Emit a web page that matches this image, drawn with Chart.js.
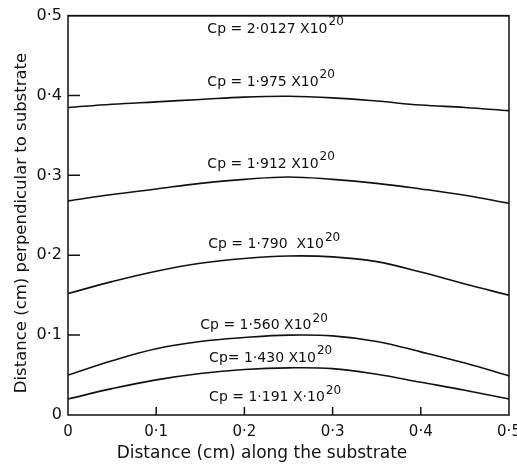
<!DOCTYPE html>
<html>
<head>
<meta charset="utf-8">
<script src="https://cdn.jsdelivr.net/npm/chart.js@4"></script>
<style>
  html, body { margin: 0; padding: 0; background: #fff; }
  #wrap { width: 517px; height: 470px; }
</style>
</head>
<body>
<div id="wrap"><canvas id="c" width="517" height="470"></canvas></div>
<script>
// --- DATA ---
const xVals = [0, 0.05, 0.1, 0.15, 0.2, 0.25, 0.3, 0.35, 0.4, 0.45, 0.5];
const xTicks = [0, 0.1, 0.2, 0.3, 0.4, 0.5];
const yTicks = [0, 0.1, 0.2, 0.3, 0.4, 0.5];

const cp20127 = [0.5, 0.5, 0.5, 0.5, 0.5, 0.5, 0.5, 0.5, 0.5, 0.5, 0.5];
const cp1975 = [0.385, 0.389, 0.392, 0.395, 0.398, 0.399, 0.397, 0.393, 0.388, 0.385, 0.381];
const cp1912 = [0.268, 0.276, 0.283, 0.290, 0.295, 0.298, 0.295, 0.290, 0.283, 0.275, 0.265];
const cp1790 = [0.152, 0.167, 0.180, 0.190, 0.196, 0.199, 0.198, 0.192, 0.179, 0.164, 0.150];
const cp1560 = [0.050, 0.068, 0.083, 0.092, 0.097, 0.100, 0.099, 0.092, 0.079, 0.065, 0.049];
const cp1430 = [0.020, 0.033, 0.044, 0.052, 0.057, 0.059, 0.058, 0.051, 0.041, 0.031, 0.020];

const curveNames = ['Cp = 2·0127 X10', 'Cp = 1·975 X10', 'Cp = 1·912 X10', 'Cp = 1·790  X10',
                    'Cp = 1·560 X10', 'Cp= 1·430 X10', 'Cp = 1·191 X·10'];
const curveExp = '20';
const xTitle = 'Distance (cm) along the substrate';
const yTitle = 'Distance (cm) perpendicular to substrate';

// where each curve label sits, in axis units
const labelAt = [
  [0.158, 0.483], [0.158, 0.417], [0.158, 0.314], [0.159, 0.213],
  [0.150, 0.112], [0.160, 0.071], [0.160, 0.022]
];

const fmt = v => v === 0 ? '0' : v.toFixed(1).replace('.', '·');
const FONT = '"DejaVu Sans", sans-serif';

// inside ticks, frame, axis titles and curve labels
const decor = {
  id: 'decor',
  afterDraw(chart) {
    const { ctx, chartArea: a, scales: { x, y } } = chart;
    ctx.save();
    ctx.strokeStyle = '#111';
    ctx.lineWidth = 1.5;
    ctx.strokeRect(a.left, a.top, a.right - a.left, a.bottom - a.top);
    ctx.beginPath();
    yTicks.slice(1, -1).forEach(v => {
      const py = y.getPixelForValue(v);
      ctx.moveTo(a.left, py); ctx.lineTo(a.left + 12, py);
    });
    xTicks.slice(1, -1).forEach(v => {
      const px = x.getPixelForValue(v);
      ctx.moveTo(px, a.bottom); ctx.lineTo(px, a.bottom - 8);
    });
    ctx.stroke();

    ctx.fillStyle = '#111';
    ctx.textBaseline = 'middle';
    curveNames.forEach((t, i) => {
      const px = x.getPixelForValue(labelAt[i][0]);
      const py = y.getPixelForValue(labelAt[i][1]);
      ctx.font = '14px ' + FONT;
      ctx.fillText(t, px, py);
      const w = ctx.measureText(t).width;
      ctx.font = '12px ' + FONT;
      ctx.fillText(curveExp, px + w + 1, py - 7);
    });

    // axis titles
    ctx.textAlign = 'center';
    ctx.font = '17px ' + FONT;
    ctx.fillText(xTitle, 262, 454);
    ctx.translate(22, 223);
    ctx.rotate(-Math.PI / 2);
    ctx.font = '16.5px ' + FONT;
    ctx.fillText(yTitle, 0, 0);
    ctx.restore();
  }
};

const mk = d => ({ data: d, borderColor: '#111', borderWidth: 1.6, pointRadius: 0,
                   fill: false, tension: 0.4 });

new Chart(document.getElementById('c'), {
  type: 'line',
  data: {
    labels: xVals,
    datasets: [mk(cp20127), mk(cp1975), mk(cp1912), mk(cp1790), mk(cp1560), mk(cp1430)]
  },
  options: {
    responsive: false,
    animation: false,
    layout: { padding: { top: 12, right: 8, left: 0, bottom: 0 } },
    plugins: { legend: { display: false }, tooltip: { enabled: false } },
    scales: {
      x: {
        type: 'linear', min: 0, max: 0.5,
        grid: { display: false, drawTicks: false },
        border: { display: false },
        afterBuildTicks: s => { s.ticks = xTicks.map(v => ({ value: v })); },
        afterFit: s => { s.height = 55; s.paddingRight = 0; s.paddingLeft = 0; },
        ticks: { color: '#111', padding: 8, maxRotation: 0, font: { family: FONT, size: 15 },
                 callback: v => fmt(v) }
      },
      y: {
        type: 'linear', min: 0, max: 0.5,
        grid: { display: false, drawTicks: false },
        border: { display: false },
        afterBuildTicks: s => { s.ticks = yTicks.map(v => ({ value: v })); },
        afterFit: s => { s.width = 68; },
        ticks: { color: '#111', padding: 6, font: { family: FONT, size: 16 },
                 callback: v => fmt(v) }
      }
    }
  },
  plugins: [decor]
});
</script>
</body>
</html>
